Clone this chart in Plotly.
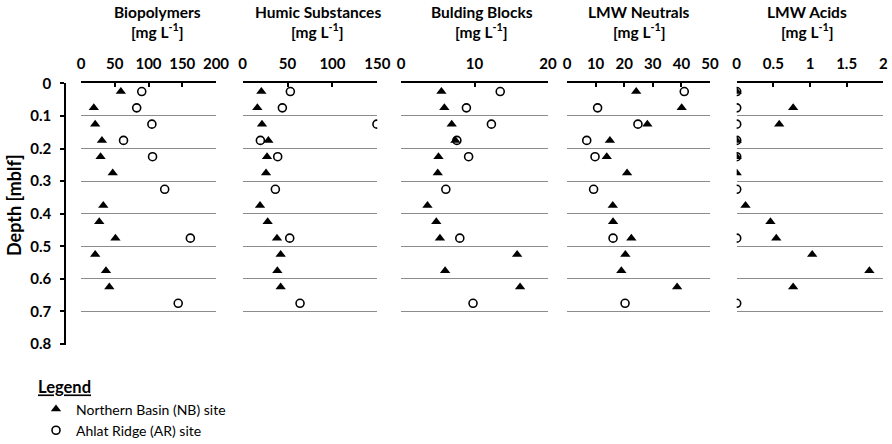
import plotly.graph_objects as go

# depth of the sampled intervals [mblf]
depth_nb = [0.025, 0.075, 0.125, 0.175, 0.225, 0.275, 0.375, 0.425, 0.475, 0.525, 0.575, 0.625]
depth_ar = [0.025, 0.075, 0.125, 0.175, 0.225, 0.325, 0.475, 0.675]

# Northern Basin (NB) site, mg/L
bio_nb = [59, 19, 21, 31, 29, 47, 33, 27, 51, 21, 37, 42]
humic_nb = [20.8, 16.3, 21.5, 28.6, 27.1, 26, 19.3, 27.8, 38.2, 42.3, 38.6, 42.3]
bb_nb = [5.5, 5.9, 6.9, 7.4, 5.1, 5.0, 3.6, 4.8, 5.3, 15.8, 6.0, 16.2]
neut_nb = [24.2, 40.1, 28.1, 15.0, 13.9, 21.0, 16.0, 16.1, 22.5, 20.4, 19.0, 38.5]
acid_nb = [0, 0.77, 0.58, 0, 0, 0, 0.12, 0.46, 0.54, 1.03, 1.81, 0.77]

# Ahlat Ridge (AR) site, mg/L
bio_ar = [90, 82.5, 105, 63, 106, 124, 162, 144]
humic_ar = [53.1, 44.2, 149.6, 19.7, 39, 36.4, 52.4, 63.9]
bb_ar = [13.5, 8.9, 12.3, 7.6, 9.2, 6.1, 8.0, 9.8]
neut_ar = [41.0, 10.7, 24.8, 6.9, 9.8, 9.3, 16.1, 20.3]
acid_ar = [0, 0, 0, 0, 0, 0, 0, 0]

panel_titles = ["Biopolymers", "Humic Substances", "Bulding Blocks", "LMW Neutrals", "LMW Acids"]
x_ranges = [[0, 200], [0, 150], [0, 20], [0, 50], [0, 2]]
x_dticks = [50, 50, 10, 10, 0.5]
nb_values = [bio_nb, humic_nb, bb_nb, neut_nb, acid_nb]
ar_values = [bio_ar, humic_ar, bb_ar, neut_ar, acid_ar]

W, H = 892, 444
FONT = "Lato, 'Open Sans', Arial, sans-serif"

# panel positions in pixels (left, right) and title centres
panel_px = [(81, 216), (242.7, 377.3), (401, 548), (567, 710), (736.7, 883.3)]
title_px = [157, 317.5, 481.7, 639, 807]
y_top_px, y_bot_px = 83.4, 344.7
y_max = 0.802  # a hair past 0.8 so the last gridline is kept

fig = go.Figure()

for i in range(5):
    n = "" if i == 0 else str(i + 1)
    # circles first so the triangles sit on top
    fig.add_trace(go.Scatter(
        x=ar_values[i], y=depth_ar, mode="markers",
        name="Ahlat Ridge (AR) site", legendgroup="ar", legendrank=2,
        showlegend=(i == 0),
        marker=dict(symbol="circle", size=8, color="white",
                    line=dict(color="black", width=1.6)),
        xaxis="x" + n, yaxis="y" + n
    ))
    fig.add_trace(go.Scatter(
        x=nb_values[i], y=depth_nb, mode="markers",
        name="Northern Basin (NB) site", legendgroup="nb", legendrank=1,
        showlegend=(i == 0),
        marker=dict(symbol="triangle-up", size=9, color="black"),
        xaxis="x" + n, yaxis="y" + n
    ))

    fig.update_layout({
        "xaxis" + n: dict(
            domain=[panel_px[i][0] / W, panel_px[i][1] / W],
            range=x_ranges[i], dtick=x_dticks[i], side="top",
            anchor="y" + n, showgrid=False, zeroline=False, automargin=False,
            showline=True, linecolor="black", linewidth=1.5,
            ticks="inside", ticklen=4, tickcolor="black", tickwidth=1.5,
            ticklabelstandoff=7,
            tickfont=dict(family=FONT, size=15, color="black", weight="bold")
        ),
        "yaxis" + n: dict(
            domain=[1 - y_bot_px / H, 1 - y_top_px / H],
            range=[y_max, 0], dtick=0.1, anchor="x" + n, automargin=False,
            showgrid=True, gridcolor="#8c8c8c", gridwidth=1.4,
            zeroline=False, showline=False, showticklabels=False, ticks=""
        ),
    })

    # two title lines per panel
    fig.add_annotation(
        text="<b>" + panel_titles[i] + "</b>",
        x=title_px[i] / W, y=1 - 12 / H, xref="paper", yref="paper",
        xanchor="center", yanchor="middle", showarrow=False,
        font=dict(family=FONT, size=15.5, color="black")
    )
    fig.add_annotation(
        text="<b>[mg L<sup>-1</sup>]</b>",
        x=title_px[i] / W, y=1 - 31 / H, xref="paper", yref="paper",
        xanchor="center", yanchor="middle", showarrow=False,
        font=dict(family=FONT, size=15.5, color="black")
    )

# depth axis on the left of the first panel
fig.update_layout(
    yaxis=dict(
        anchor="free", position=65 / W,
        showline=True, linecolor="black", linewidth=1.5,
        ticks="outside", ticklen=4, tickcolor="black", tickwidth=1.5,
        showticklabels=True, tickformat="~g", ticklabelstandoff=6,
        tickvals=[0, 0.1, 0.2, 0.3, 0.4, 0.5, 0.6, 0.7, 0.8],
        tickfont=dict(family=FONT, size=15, color="black", weight="bold")
    )
)

fig.add_annotation(
    text="<b>Depth [mblf]</b>", textangle=-90,
    x=14 / W, y=1 - 205 / H, xref="paper", yref="paper",
    xanchor="center", yanchor="middle", showarrow=False,
    font=dict(family=FONT, size=18, color="black")
)

fig.update_layout(
    width=W, height=H,
    margin=dict(l=0, r=0, t=0, b=0, autoexpand=False),
    paper_bgcolor="white", plot_bgcolor="white",
    showlegend=True,
    legend=dict(
        title=dict(text="<b><span style='text-decoration:underline'>Legend</span></b>",
                   font=dict(family=FONT, size=16.5, color="black"), side="top"),
        x=36 / W, y=1 - 372 / H, xanchor="left", yanchor="top",
        orientation="v", tracegroupgap=0,
        font=dict(family=FONT, size=14, color="black"),
        bgcolor="rgba(0,0,0,0)"
    )
)

# drop the browser's default body margin so the figure sits at the window corner
fig.write_html("out.html", config={"displayModeBar": False},
               post_script="document.body.style.margin = '0';")
